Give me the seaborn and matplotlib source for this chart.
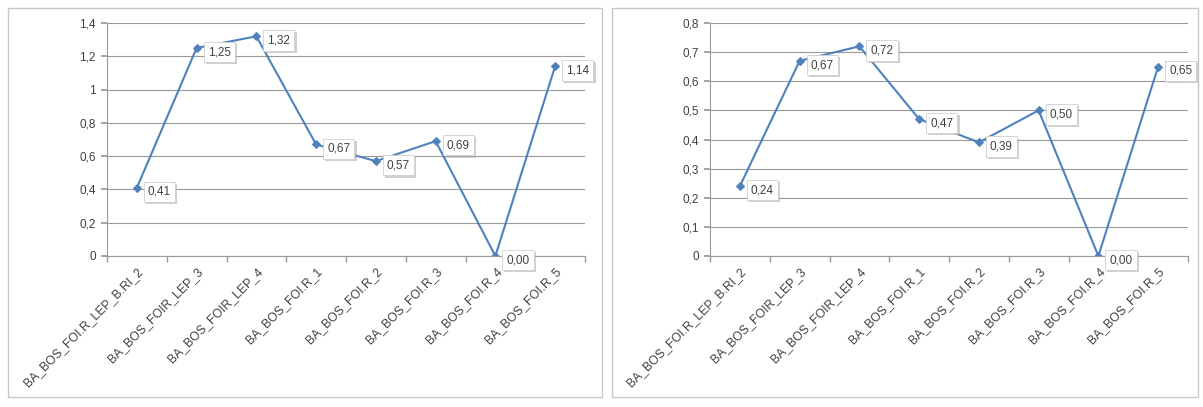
import numpy as np
import matplotlib
matplotlib.use("Agg")
import matplotlib.pyplot as plt
import matplotlib.patheffects as pe
from matplotlib.patches import Rectangle
import seaborn as sns

# categories (same for both charts)
labels_left = ['BA_BOS_FOI.R_LEP_B.RI_2', 'BA_BOS_FOIR_LEP_3', 'BA_BOS_FOIR_LEP_4',
               'BA_BOS_FOI.R_1', 'BA_BOS_FOI.R_2', 'BA_BOS_FOI.R_3',
               'BA_BOS_FOI.R_4', 'BA_BOS_FOI.R_5']
labels_right = ['BA_BOS_FOI.R_LEP_B.RI_2', 'BA_BOS_FOIR_LEP_3', 'BA_BOS_FOIR_LEP_4',
                'BA_BOS_FOI.R_1', 'BA_BOS_FOI.R_2', 'BA_BOS_FOI.R_3',
                'BA_BOS_FOI.R_4', 'BA_BOS_FOI.R_5']

values_left = [0.41, 1.25, 1.32, 0.67, 0.57, 0.69, 0.00, 1.14]
values_right = [0.24, 0.67, 0.72, 0.47, 0.39, 0.50, 0.00, 0.65]

yticks_left = [0, 0.2, 0.4, 0.6, 0.8, 1.0, 1.2, 1.4]
yticks_right = [0, 0.1, 0.2, 0.3, 0.4, 0.5, 0.6, 0.7, 0.8]

sns.set_theme(style="white")
plt.rcParams['font.family'] = ['Liberation Sans', 'DejaVu Sans']

LINE = '#4f81bd'
GRID = '#999999'
TXT = '#404040'


def fmt(v):
    s = f"{v:g}"
    return s.replace('.', ',')


def draw_chart(ax, labels, values, yticks):
    x = np.arange(len(values))
    sns.lineplot(x=x, y=values, ax=ax, color=LINE, linewidth=1.5,
                 marker='D', markersize=4, markeredgecolor=LINE)
    ax.set_xlim(-0.5, len(values) - 0.5)
    ax.set_ylim(yticks[0], yticks[-1])
    ax.set_yticks(yticks)
    ax.set_yticklabels([fmt(t) for t in yticks], fontsize=8.5, color=TXT)
    ax.set_xticks(x)
    ax.set_xticklabels(labels, rotation=45, ha='right', va='top',
                       rotation_mode='anchor', fontsize=8.8, color=TXT)
    ax.set_xticks(np.arange(-0.5, len(values)), minor=True)
    ax.tick_params(axis='x', which='major', length=0, pad=7)
    ax.tick_params(axis='x', which='minor', length=4, color=GRID, direction='out', bottom=True)
    ax.tick_params(axis='y', length=4, color=GRID, direction='out', left=True, pad=4)
    ax.yaxis.grid(True, color=GRID, linewidth=0.8)
    ax.xaxis.grid(False)
    for side in ['top', 'right']:
        ax.spines[side].set_visible(False)
    for side in ['left', 'bottom']:
        ax.spines[side].set_color(GRID)
        ax.spines[side].set_linewidth(0.8)
    for xi, v in zip(x, values):
        t = ax.annotate(f"{v:.2f}".replace('.', ','), (xi, v), xytext=(8, -3),
                        textcoords='offset points', ha='left', va='center',
                        fontsize=8.5, color=TXT,
                        bbox=dict(boxstyle='square,pad=0.35', fc='white',
                                  ec='#d0d0d0', lw=0.6))
        t.get_bbox_patch().set_path_effects([
            pe.SimplePatchShadow(offset=(1.5, -1.5), shadow_rgbFace='#b0b0b0', alpha=0.6),
            pe.Normal()])


fig = plt.figure(figsize=(12.03, 4.07), dpi=100)
W, H = 1203, 407

# panel frames like the spreadsheet chart areas
for (x0, y0, x1, y1) in [(8, 8, 602, 397), (612, 8, 1198, 397)]:
    fig.patches.append(Rectangle((x0 / W, 1 - y1 / H), (x1 - x0) / W, (y1 - y0) / H,
                                 transform=fig.transFigure, fill=False,
                                 ec='#c8c8c8', lw=1.0))

ax1 = fig.add_axes([107 / W, 1 - 256 / H, (585 - 107) / W, (256 - 23) / H])
ax2 = fig.add_axes([710 / W, 1 - 256 / H, (1188 - 710) / W, (256 - 23) / H])

draw_chart(ax1, labels_left, values_left, yticks_left)
draw_chart(ax2, labels_right, values_right, yticks_right)

fig.savefig('out.png', dpi=100)
